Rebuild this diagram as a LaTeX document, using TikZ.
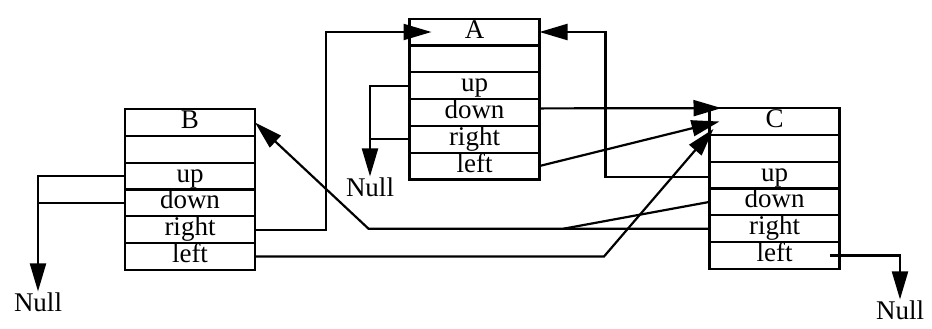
\documentclass[tikz,border=0pt]{standalone}
\usepackage{fontspec}
\setmainfont{Liberation Serif}
\usetikzlibrary{positioning, arrows.meta}

\begin{document}
\begin{tikzpicture}[x=0.5pt, y=-0.5pt, line width=1.1pt,
  >={Triangle[length=14pt,width=8pt]},
  cell/.style={draw, minimum width=65pt, minimum height=13.4pt, inner sep=0pt, outer sep=0pt,
    text height=9pt, text depth=3pt, font=\fontsize{13.5}{13.5}\selectfont},
  nul/.style={inner sep=0pt, font=\fontsize{13.5}{13.5}\selectfont}]
  \useasboundingbox (0,0) rectangle (932,328);
  % box B
  \node[cell] (B0) at (190,122.5) {B};
  \node[cell, below=0pt of B0] (B1) {};
  \node[cell, below=0pt of B1] (B2) {up};
  \node[cell, below=0pt of B2] (B3) {down};
  \node[cell, below=0pt of B3] (B4) {right};
  \node[cell, below=0pt of B4] (B5) {left};
  % box A
  \node[cell] (A0) at (474.5,32) {A};
  \node[cell, below=0pt of A0] (A1) {};
  \node[cell, below=0pt of A1] (A2) {up};
  \node[cell, below=0pt of A2] (A3) {down};
  \node[cell, below=0pt of A3] (A4) {right};
  \node[cell, below=0pt of A4] (A5) {left};
  % box C
  \node[cell] (C0) at (774.5,121.5) {C};
  \node[cell, below=0pt of C0] (C1) {};
  \node[cell, below=0pt of C1] (C2) {up};
  \node[cell, below=0pt of C2] (C3) {down};
  \node[cell, below=0pt of C3] (C4) {right};
  \node[cell, below=0pt of C4] (C5) {left};
  % null ends
  \node[nul] (nullB) at (38,302) {Null};
  \node[nul] (nullA) at (370,187) {Null};
  \node[nul] (nullC) at (900,310) {Null};
  % links of B
  \draw[->] (B2.west) -| (nullB.north);
  \draw (B3.west) -- (B3.west -| nullB.north);
  \draw[->, shorten >=-11pt] (B4.east) -- ++(71,0) |- (A0.west);
  \draw[->] (B5.east) -- ++(349,0) -- ([xshift=2pt,yshift=3pt]C0.south west);
  % links of A
  \draw[->] (A2.west) -| (nullA.north);
  \draw (A4.west) -- (A4.west -| nullA.north);
  \draw[->] ([yshift=2pt]A3.east) -- ([xshift=6pt]C0.north west);
  \draw[->] (A5.east) -- ([xshift=5pt]C0.west);
  % links of C
  \draw[->] ([yshift=-1pt]C2.west) -- ++(-104,0) |- (A0.east);
  \draw[->] (C4.west) -- ++(-341,0) -- (B0.east);
  \draw (C3.west) -- ([xshift=-73pt]C4.west);
  \draw[->] ([xshift=-5pt]C5.east) -| (nullC.north);
\end{tikzpicture}
\end{document}
